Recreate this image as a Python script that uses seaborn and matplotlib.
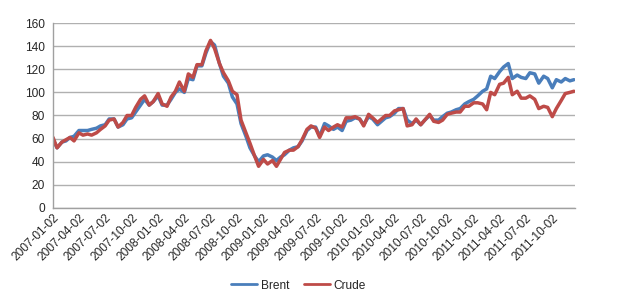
import pandas as pd
import numpy as np
import matplotlib
matplotlib.use("Agg")
import matplotlib.pyplot as plt
import seaborn as sns

# semi-monthly observation dates, 2007-01 .. 2011-12
dates = pd.to_datetime([f"{y}-{m:02d}-{d:02d}" for y in range(2007, 2012)
                        for m in range(1, 13) for d in (2, 16)])

crude = [
    61, 52, 57, 59, 61, 58, 65, 63, 64, 63, 65, 68, 71, 76, 77, 70, 74, 80, 80, 87, 94, 97, 89, 92,
    99, 90, 88, 96, 101, 109, 101, 116, 113, 124, 124, 136, 145, 138, 125, 117, 110, 101, 98, 76, 65, 56, 45, 36,
    42, 38, 41, 36, 42, 48, 50, 50, 53, 59, 68, 71, 69, 61, 70, 67, 70, 72, 70, 78, 78, 79, 77, 71,
    81, 78, 74, 77, 80, 80, 84, 85, 86, 71, 72, 77, 72, 76, 81, 75, 74, 76, 81, 82, 83, 83, 88, 88,
    91, 91, 90, 85, 100, 98, 107, 108, 113, 98, 101, 95, 95, 97, 94, 86, 88, 87, 79, 86, 93, 99, 100, 101,
]
brent = [
    59, 52, 57, 58, 61, 62, 67, 67, 67, 68, 69, 71, 72, 77, 77, 70, 72, 77, 78, 83, 89, 94, 89, 92,
    97, 89, 89, 94, 100, 103, 100, 112, 111, 123, 123, 134, 144, 141, 125, 114, 108, 96, 90, 73, 62, 52, 45, 40,
    45, 46, 44, 41, 44, 46, 50, 52, 53, 58, 67, 70, 70, 62, 73, 71, 68, 70, 67, 75, 76, 78, 77, 72,
    79, 77, 72, 75, 78, 79, 82, 86, 86, 76, 73, 76, 72, 76, 80, 76, 76, 79, 82, 83, 85, 86, 90, 92,
    94, 97, 101, 103, 114, 112, 118, 122, 125, 112, 115, 113, 112, 117, 116, 108, 114, 112, 104, 111, 109, 112, 110, 111,
]

tick_labels = [f"{y}-{m:02d}-02" for y in range(2007, 2012) for m in (1, 4, 7, 10)]
yticks = list(range(0, 161, 20))

df = pd.DataFrame({"date": dates, "Brent": brent, "Crude": crude})
long = df.melt(id_vars="date", var_name="series", value_name="price")

sns.set_theme(style="white")
plt.rcParams["font.family"] = ["Liberation Sans", "DejaVu Sans"]

fig = plt.figure(figsize=(6.2, 3.0), dpi=100)
ax = fig.add_axes([0.0855, 0.307, 0.842, 0.616])

sns.lineplot(data=long, x="date", y="price", hue="series",
             palette={"Brent": "#4A7EBB", "Crude": "#BE4B48"},
             linewidth=2.5, ax=ax, legend=True)

tick_pos = pd.to_datetime(tick_labels)
ax.set_xlim(pd.Timestamp("2007-01-02"), pd.Timestamp("2011-12-20"))
ax.set_ylim(0, 160)
ax.set_yticks(yticks)
ax.set_xticks(tick_pos)
ax.set_xticklabels(tick_labels, rotation=45, ha="right", rotation_mode="anchor", fontsize=8.6)
ax.tick_params(axis="y", labelsize=8.6, length=0, pad=6)
ax.tick_params(axis="x", length=0, pad=3)
ax.grid(axis="y", color="#B0B0B0", linewidth=1.0)
ax.grid(axis="x", visible=False)
for s in ["top", "right"]:
    ax.spines[s].set_visible(False)
for s in ["left", "bottom"]:
    ax.spines[s].set_color("#A0A0A0")
    ax.spines[s].set_linewidth(1.0)
ax.set_xlabel("")
ax.set_ylabel("")

leg = ax.legend(loc="upper center", bbox_to_anchor=(0.47, -0.33), ncol=2,
                frameon=False, fontsize=8.6, handlelength=2.2, handletextpad=0.3,
                columnspacing=1.2)
for line in leg.get_lines():
    line.set_linewidth(2.0)

fig.savefig("out.png", dpi=100)
